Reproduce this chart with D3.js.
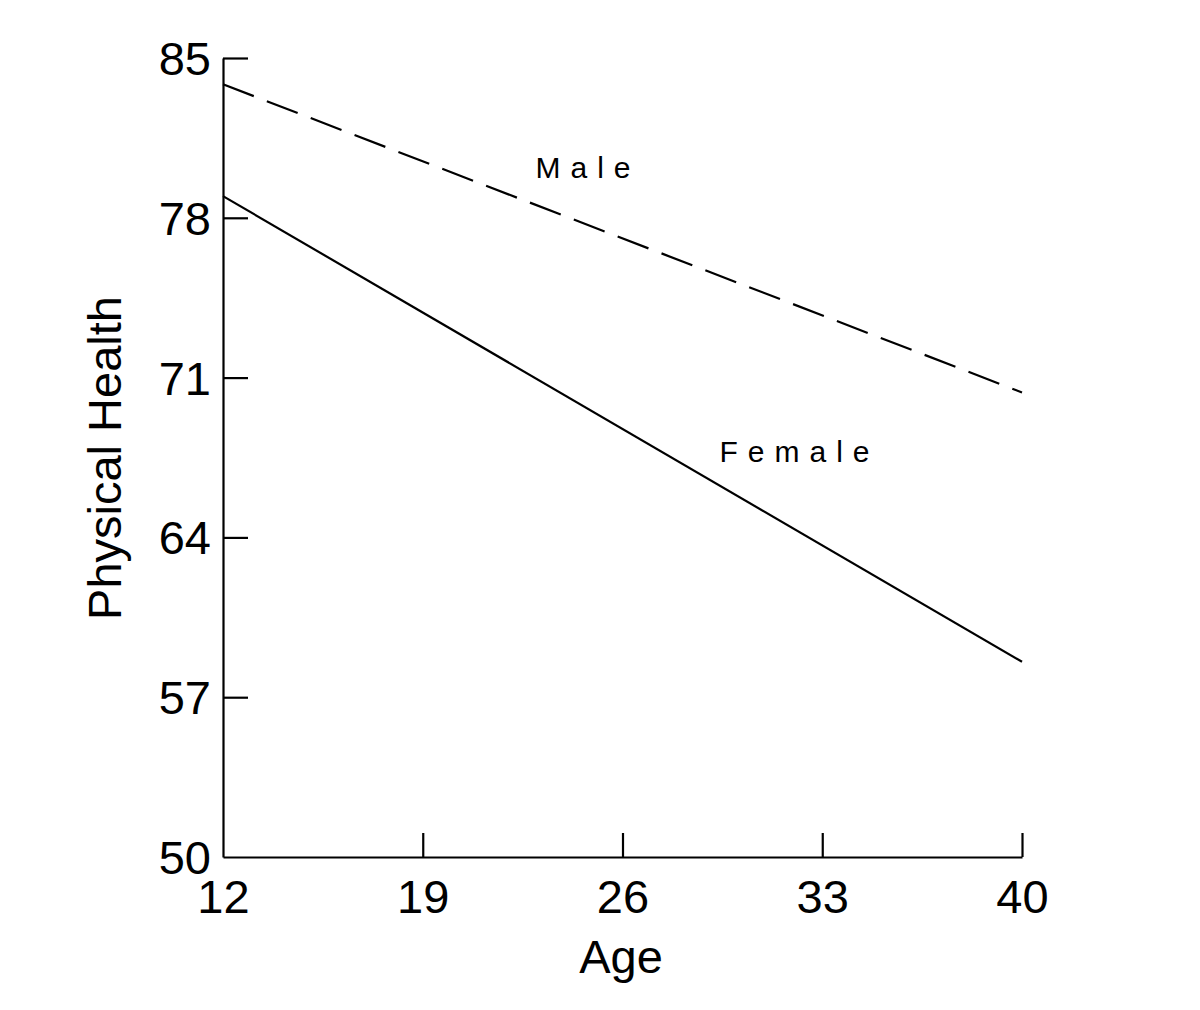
<!DOCTYPE html>
<html><head><meta charset="utf-8">
<script src="https://cdn.jsdelivr.net/npm/d3@7"></script>
<style>body{margin:0;background:#fff;} svg{display:block;}</style>
</head><body>
<svg id="c" width="1200" height="1010"></svg>
<script>
const ages = [12, 40];
const maleValues = [83.85, 70.35];
const femaleValues = [78.95, 58.55];
const xTicks = [12, 19, 26, 33, 40];
const yTicks = [50, 57, 64, 71, 78, 85];
const seriesNames = ["Male", "Female"];
const labelPos = [[22.95, 79.75], [29.4, 67.3]];

const svg = d3.select("#c");
const font = "'Liberation Sans', Arial, sans-serif";
const x = d3.scaleLinear().domain([12, 40]).range([223, 1022]);
const y = d3.scaleLinear().domain([50, 85]).range([857, 58]);

const gx = svg.append("g").attr("transform", "translate(0,857)")
  .call(d3.axisBottom(x).tickValues(xTicks).tickSize(-24).tickPadding(23).tickSizeOuter(0));
const gy = svg.append("g").attr("transform", "translate(223,0)")
  .call(d3.axisLeft(y).tickValues(yTicks).tickSize(-25).tickPadding(12).tickSizeOuter(0));
[gx, gy].forEach(g => {
  g.select(".domain").attr("stroke", "#000").attr("stroke-width", 2.2);
  g.selectAll(".tick line").attr("stroke", "#000").attr("stroke-width", 2.2);
  g.selectAll(".tick text").attr("fill", "#000").style("font-family", font).style("font-size", "47px");
});
gx.selectAll(".tick text").attr("dy", "0.71em");
gy.selectAll(".tick text").attr("dy", "0.35em");
gx.selectAll(".tick").filter(d => d === 12).select("line").remove();
gy.selectAll(".tick").filter(d => d === 50).select("line").remove();

const line = d3.line().x(d => x(d[0])).y(d => y(d[1]));
svg.append("path").datum(ages.map((a, i) => [a, maleValues[i]]))
  .attr("d", line).attr("fill", "none").attr("stroke", "#000").attr("stroke-width", 2.2)
  .attr("stroke-dasharray", "33,14");
svg.append("path").datum(ages.map((a, i) => [a, femaleValues[i]]))
  .attr("d", line).attr("fill", "none").attr("stroke", "#000").attr("stroke-width", 2.2);

seriesNames.forEach((n, i) => {
  svg.append("text").attr("x", x(labelPos[i][0])).attr("y", y(labelPos[i][1]))
    .text(n).style("font-family", font).style("font-size", "30px")
    .style("letter-spacing", "10px").attr("fill", "#000");
});

svg.append("text").attr("x", 621).attr("y", 973).attr("text-anchor", "middle")
  .text("Age").style("font-family", font).style("font-size", "47px");
svg.append("text").attr("transform", "translate(121,458) rotate(-90)").attr("text-anchor", "middle")
  .text("Physical Health").style("font-family", font).style("font-size", "47px");
</script>
</body></html>
